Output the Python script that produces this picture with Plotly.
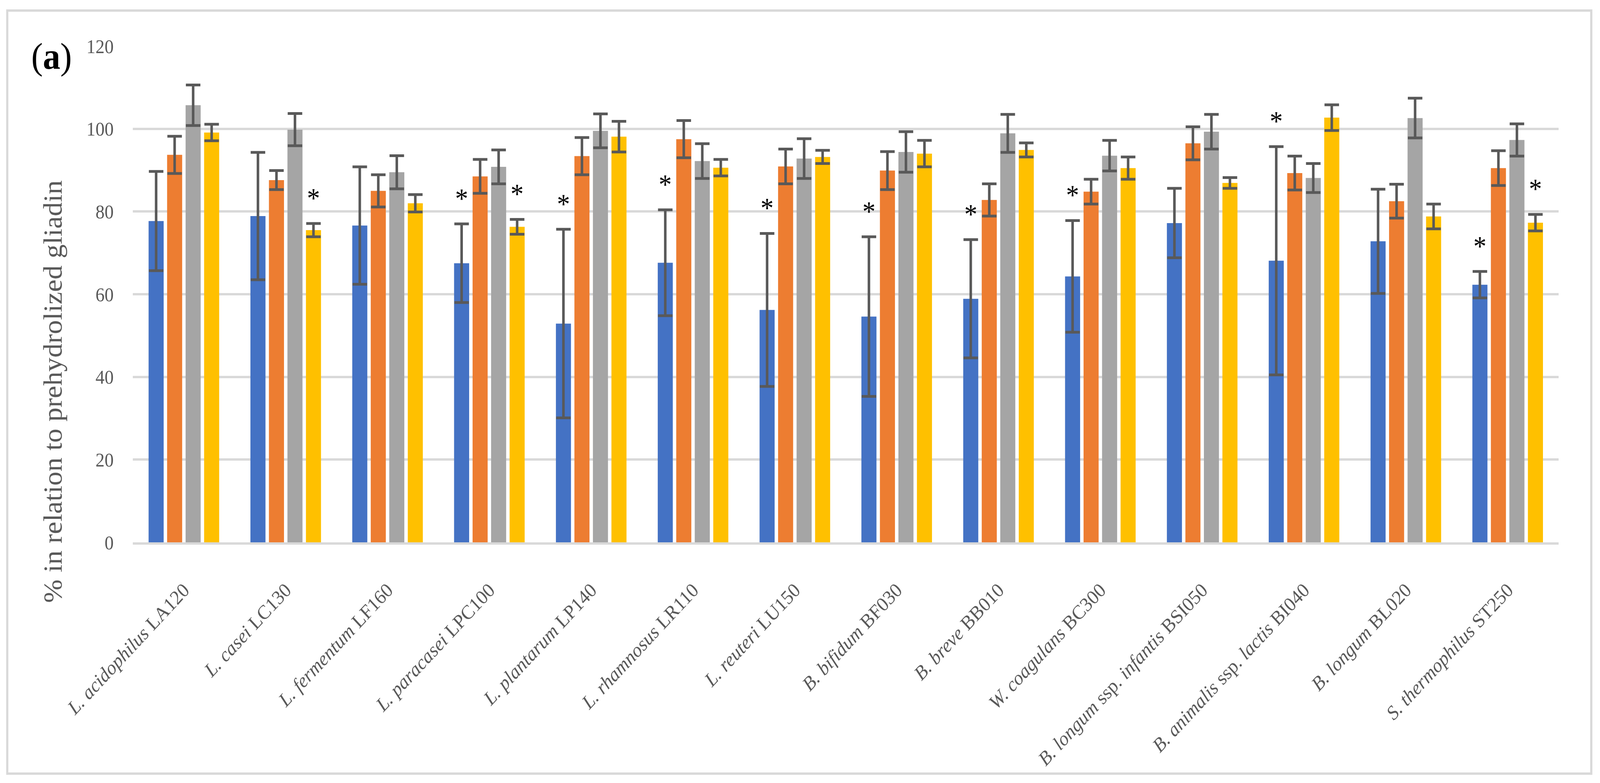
import plotly.graph_objects as go

categories = [
    "<i>L. acidophilus</i> LA120",
    "<i>L. casei</i> LC130",
    "<i>L. fermentum</i> LF160",
    "<i>L. paracasei</i> LPC100",
    "<i>L. plantarum</i> LP140",
    "<i>L. rhamnosus</i> LR110",
    "<i>L. reuteri</i> LU150",
    "<i>B. bifidum</i> BF030",
    "<i>B. breve</i> BB010",
    "<i>W. coagulans</i> BC300",
    "<i>B. longum</i> ssp. <i>infantis</i> BSI050",
    "<i>B. animalis</i> ssp. <i>lactis</i> BI040",
    "<i>B. longum</i> BL020",
    "<i>S. thermophilus</i> ST250",
]

series1 = [77.7, 78.9, 76.6, 67.5, 52.9, 67.6, 56.2, 54.6, 58.9, 64.3, 77.2, 68.1, 72.8, 62.3]
series1_err = [12.0, 15.4, 14.2, 9.5, 22.8, 12.8, 18.5, 19.3, 14.3, 13.5, 8.4, 27.6, 12.6, 3.2]
series2 = [93.7, 87.6, 85.0, 88.5, 93.4, 97.5, 90.9, 89.9, 82.8, 84.8, 96.5, 89.3, 82.5, 90.5]
series2_err = [4.5, 2.3, 3.9, 4.1, 4.5, 4.5, 4.2, 4.6, 3.9, 3.0, 4.0, 4.1, 4.1, 4.2]
series3 = [105.7, 99.8, 89.5, 90.8, 99.5, 92.2, 92.8, 94.4, 98.9, 93.5, 99.3, 88.1, 102.6, 97.3]
series3_err = [4.9, 3.9, 4.0, 4.1, 4.1, 4.2, 4.8, 4.9, 4.6, 3.7, 4.2, 3.5, 4.8, 3.9]
series4 = [99.1, 75.5, 82.0, 76.3, 98.1, 90.6, 93.2, 94.0, 94.9, 90.5, 86.9, 102.7, 78.8, 77.3]
series4_err = [2.0, 1.6, 2.1, 1.8, 3.7, 2.0, 1.6, 3.2, 1.7, 2.7, 1.3, 3.1, 3.0, 2.0]

# significance markers (*) per series: category indices
series1_sig = [3, 4, 5, 6, 7, 8, 9, 11, 13]
series2_sig = []
series3_sig = []
series4_sig = [1, 3, 13]

y_ticks = [0, 20, 40, 60, 80, 100, 120]

colors = ["#4472C4", "#ED7D31", "#A5A5A5", "#FFC000"]
values = [series1, series2, series3, series4]
errors = [series1_err, series2_err, series3_err, series4_err]
sigs = [series1_sig, series2_sig, series3_sig, series4_sig]

W, H = 4404, 2004
ML, MR, MT, MB = 366, 114, 118, 616
PW = W - ML - MR
PH = H - MT - MB
BARGAP = 0.273
BARGROUPGAP = 0.186
FONT = "Liberation Serif"
GREY_TXT = "#595959"
STAR_GAP = 5.6

x_idx = list(range(len(categories)))
fig = go.Figure()
for k in range(4):
    fig.add_trace(go.Bar(
        x=x_idx, y=values[k], name=f"Series {k+1}",
        marker=dict(color=colors[k], line=dict(width=0)),
        error_y=dict(type="data", array=errors[k], color="#595959",
                     thickness=7, width=20, visible=True),
        showlegend=False,
    ))

slot = (1 - BARGAP) / 4
star_x, star_y = [], []
for k in range(4):
    for i in sigs[k]:
        star_x.append(i + (k - 1.5) * slot)
        star_y.append(values[k][i] + errors[k][i] + STAR_GAP)
fig.add_trace(go.Scatter(
    x=star_x, y=star_y, mode="text", text=["*"] * len(star_x),
    textposition="middle center",
    textfont=dict(family=FONT, size=72, color="#000000"),
    showlegend=False, cliponaxis=False, hoverinfo="skip",
))

def px_to_paper_x(px):
    return (px - ML) / PW

def px_to_paper_y(py):
    return (H - MB - py) / PH

fig.update_layout(
    width=W, height=H,
    margin=dict(l=ML, r=MR, t=MT, b=MB, pad=0, autoexpand=False),
    paper_bgcolor="white", plot_bgcolor="white",
    barmode="group", bargap=BARGAP, bargroupgap=BARGROUPGAP,
    font=dict(family=FONT, color=GREY_TXT),
    xaxis=dict(
        range=[-0.5, len(categories) - 0.5],
        tickmode="array", tickvals=x_idx, ticktext=categories,
        tickangle=-45, ticks="", ticklabelstandoff=66,
        tickfont=dict(family=FONT, size=51, color=GREY_TXT),
        showline=True, linecolor="#D9D9D9", linewidth=6,
        showgrid=False, zeroline=False,
    ),
    yaxis=dict(
        range=[0, 120], tickmode="array", tickvals=y_ticks,
        ticktext=[str(v) for v in y_ticks],
        ticks="", ticklabelstandoff=52,
        tickfont=dict(family=FONT, size=50, color=GREY_TXT),
        showgrid=True, gridcolor="#D9D9D9", gridwidth=6,
        zeroline=False, showline=False,
    ),
    shapes=[dict(
        type="rect", xref="paper", yref="paper",
        x0=px_to_paper_x(20), x1=px_to_paper_x(4380),
        y0=px_to_paper_y(1980), y1=px_to_paper_y(27),
        line=dict(color="#D9D9D9", width=6), fillcolor="rgba(0,0,0,0)",
        layer="below",
    )],
    annotations=[
        dict(text="(<b>a</b>)", xref="paper", yref="paper",
             x=px_to_paper_x(84), y=px_to_paper_y(144),
             xanchor="left", yanchor="middle", showarrow=False,
             font=dict(family=FONT, size=96, color="#000000")),
        dict(text="% in relation to prehydrolized gliadin",
             xref="paper", yref="paper",
             x=px_to_paper_x(146), y=px_to_paper_y(1002),
             xanchor="center", yanchor="middle", textangle=-90,
             showarrow=False,
             font=dict(family=FONT, size=72, color=GREY_TXT)),
    ],
)

# Fit the fixed-size figure into whatever viewport the browser really has
fit_js = """
(function(){
  var de = document.documentElement, b = document.body;
  de.style.margin = '0'; de.style.padding = '0'; de.style.overflow = 'hidden';
  b.style.margin = '0'; b.style.padding = '0'; b.style.overflow = 'hidden';
  var gd = document.getElementsByClassName('plotly-graph-div')[0];
  var sx = window.innerWidth / %d, sy = window.innerHeight / %d;
  gd.style.transformOrigin = '0 0';
  gd.style.transform = 'scale(' + sx + ',' + sy + ')';
})();
""" % (W, H)

fig.write_html("out.html", post_script=fit_js,
               config={"displayModeBar": False, "staticPlot": True})
